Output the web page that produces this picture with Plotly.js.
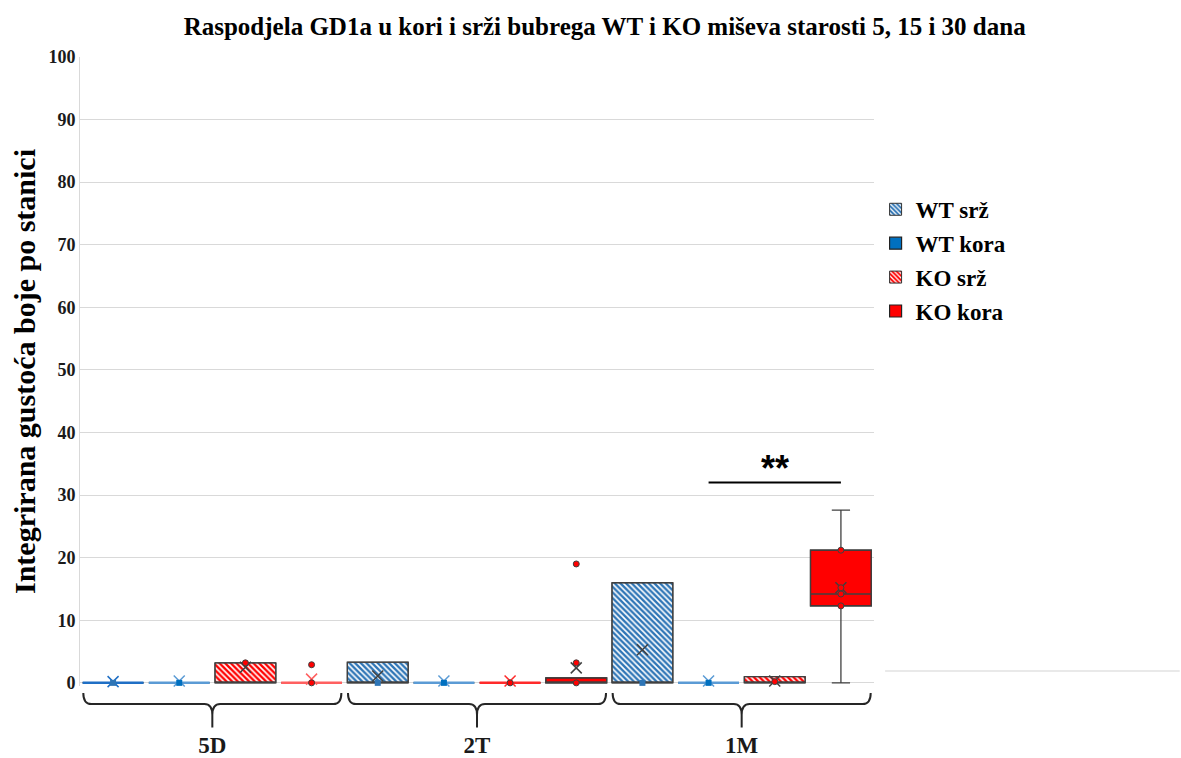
<!DOCTYPE html>
<html>
<head>
<meta charset="utf-8">
<script src="https://cdn.plot.ly/plotly-3.0.1.min.js"></script>
<style>html,body{margin:0;padding:0;background:#fff;}#chart{width:1181px;height:758px;}</style>
</head>
<body>
<div id="chart"></div>
<script>
// ---- data ----
const groups = ['5D', '2T', '1M'];
const seriesNames = ['WT srž', 'WT kora', 'KO srž', 'KO kora'];
// [series][group]
const q1Vals     = [[0, 0, 0],   [0, 0, 0], [0, 0, 0],   [0, 0, 12.3]];
const medianVals = [[0, 0, 0],   [0, 0, 0], [0, 0, 0],   [0, 0, 14.2]];
const q3Vals     = [[0, 3.3, 16.0], [0, 0, 0], [3.2, 0, 1.0], [0, 0.8, 21.2]];
const lowVals    = [[0, 0, 0],   [0, 0, 0], [0, 0, 0],   [0, 0, 0]];
const highVals   = [[0, 3.3, 16.0], [0, 0, 0], [3.2, 0, 1.0], [0, 0.8, 27.6]];
const meanVals   = [[0.2, 1.1, 5.3], [0.3, 0.3, 0.3], [2.5, 0.3, 0.3], [0.6, 2.4, 15.2]];
const pointVals  = [
  [[0], [0], [0]],
  [[0], [0], [0]],
  [[3.2], [0], [0.2]],
  [[0, 2.9], [0, 3.2, 19.0], [12.3, 14.2, 15.2, 21.2]]
];
const sigPair = [9, 11];
const sigLevel = 32;
const sigText = '**';
const yTicks = [0, 10, 20, 30, 40, 50, 60, 70, 80, 90, 100];

// ---- styles ----
const fillColors = ['#2E75B6', '#0070C0', '#FF0000', '#FF0000'];
const flatLineColors = ['#1F6FC5', '#5B9BD5', '#FF2A2A', '#FF6060'];
const patternShapes = ['\\', '', '\\', ''];
const pointSymbols = ['square', 'square', 'circle', 'circle'];
const serif = 'Liberation Serif, Times New Roman, serif';
const darkLine = '#404040';

const traces = [];
const nS = seriesNames.length;
const pos = (s, g) => g * nS + s;

// bars for box bodies (with patterns) + legend
seriesNames.forEach((name, s) => {
  traces.push({
    type: 'bar',
    name: name,
    legendgroup: name,
    x: groups.map((g, gi) => pos(s, gi)),
    base: q1Vals[s],
    y: q3Vals[s].map((v, gi) => v - q1Vals[s][gi]),
    width: 0.92,
    marker: {
      color: fillColors[s],
      line: {color: patternShapes[s] ? '#333333' : '#222222', width: patternShapes[s] ? 1 : 1.2},
      pattern: patternShapes[s]
        ? {shape: patternShapes[s], fgcolor: '#ffffff', bgcolor: fillColors[s], size: 4, solidity: 0.4, fillmode: 'replace'}
        : {shape: ''}
    },
    hoverinfo: 'skip',
    showlegend: true
  });
});

// box outlines, medians, whiskers
seriesNames.forEach((name, s) => {
  groups.forEach((g, gi) => {
    const flat = q3Vals[s][gi] - q1Vals[s][gi] < 0.5 && highVals[s][gi] - lowVals[s][gi] < 0.5;
    const lc = flat ? flatLineColors[s] : darkLine;
    traces.push({
      type: 'box',
      x: [pos(s, gi)],
      q1: [q1Vals[s][gi]],
      median: [medianVals[s][gi]],
      q3: [q3Vals[s][gi]],
      lowerfence: [lowVals[s][gi]],
      upperfence: [highVals[s][gi]],
      width: 0.92,
      whiskerwidth: 0.3,
      boxpoints: false,
      fillcolor: 'rgba(0,0,0,0)',
      line: {color: lc, width: flat ? 2.5 : 1.3},
      showlegend: false,
      hoverinfo: 'skip'
    });
    // mean marker
    traces.push({
      type: 'scatter', mode: 'markers',
      x: [pos(s, gi)], y: [meanVals[s][gi]],
      marker: {symbol: 'x-thin-open', size: 11, color: lc, line: {width: 1.5, color: lc}},
      showlegend: false, hoverinfo: 'skip', cliponaxis: false
    });
    // points
    const pts = pointVals[s][gi];
    traces.push({
      type: 'scatter', mode: 'markers',
      x: pts.map(() => pos(s, gi)), y: pts,
      marker: pointSymbols[s] === 'square'
        ? {symbol: 'square', size: 6, color: fillColors[s]}
        : {symbol: 'circle', size: 6, color: fillColors[s], line: {width: 1, color: darkLine}},
      showlegend: false, hoverinfo: 'skip', cliponaxis: false
    });
  });
});

// braces under each group
const shapes = [];
const yTop = -0.011, yH = -0.0286, yTip = -0.066, d = 0.12;
groups.forEach((g, gi) => {
  const L = gi * nS - 0.45, R = gi * nS + nS - 0.55, M = gi * nS + (nS - 1) / 2;
  const path = `M${L},${yTop} Q${L},${yH} ${L + d},${yH} L${M - d},${yH} Q${M},${yH} ${M},${yTip + 0.02} L${M},${yTip} ` +
               `M${M},${yTip + 0.02} Q${M},${yH} ${M + d},${yH} L${R - d},${yH} Q${R},${yH} ${R},${yTop}`;
  shapes.push({type: 'path', xref: 'x', yref: 'paper', path: path, line: {color: '#262626', width: 2}});
});
// significance bar
shapes.push({type: 'line', xref: 'x', yref: 'y', x0: sigPair[0], x1: sigPair[1], y0: sigLevel, y1: sigLevel,
             line: {color: '#000000', width: 2}});
// stray light line at right
shapes.push({type: 'line', xref: 'paper', yref: 'paper', x0: 1.014, x1: 1.385, y0: 0.024, y1: 0.024,
             line: {color: '#e2e2e2', width: 1.5}});

const layout = {
  width: 1181, height: 758,
  margin: {l: 80, r: 307, t: 57, b: 72},
  paper_bgcolor: '#ffffff', plot_bgcolor: '#ffffff',
  barmode: 'overlay', boxmode: 'overlay',
  title: {
    text: 'Raspodjela GD1a u kori i srži bubrega WT i KO miševa starosti 5, 15 i 30 dana',
    font: {family: serif, size: 25, weight: 'bold', color: '#000000'},
    x: 0.512, xref: 'container', xanchor: 'center', y: 0.966, yref: 'container', yanchor: 'middle'
  },
  xaxis: {
    range: [-0.5, 11.5], showgrid: false, zeroline: false, showline: false,
    tickmode: 'array', tickvals: groups.map((g, gi) => gi * nS + (nS - 1) / 2), ticktext: groups,
    ticks: '', ticklabelstandoff: 43,
    tickfont: {family: serif, size: 23, weight: 'bold', color: '#1a1a1a'}
  },
  yaxis: {
    range: [-0.5, 100], tickmode: 'array', tickvals: yTicks, ticktext: yTicks.map(String),
    showgrid: true, gridcolor: '#d9d9d9', gridwidth: 1, zeroline: false,
    showline: true, linecolor: '#d9d9d9', linewidth: 1, ticks: '',
    tickfont: {family: serif, size: 18, weight: 'bold', color: '#1a1a1a'},
    title: {text: 'Integrirana gustoća boje po stanici', standoff: 3,
            font: {family: serif, size: 30, weight: 'bold', color: '#000000'}}
  },
  legend: {
    x: 1.002, xanchor: 'left', y: 0.792, yanchor: 'top',
    font: {family: serif, size: 23, weight: 'bold', color: '#000000'},
    traceorder: 'grouped', tracegroupgap: 1, itemwidth: 30, bgcolor: 'rgba(0,0,0,0)'
  },
  shapes: shapes,
  annotations: [{
    xref: 'x', yref: 'y', x: (sigPair[0] + sigPair[1]) / 2, y: sigLevel + 2.3,
    text: sigText, showarrow: false,
    font: {family: 'Liberation Sans, Arial, sans-serif', size: 36, weight: 'bold', color: '#000000'}
  }],
  showlegend: true
};

Plotly.newPlot('chart', traces, layout, {displayModeBar: false, staticPlot: true});
</script>
</body>
</html>
